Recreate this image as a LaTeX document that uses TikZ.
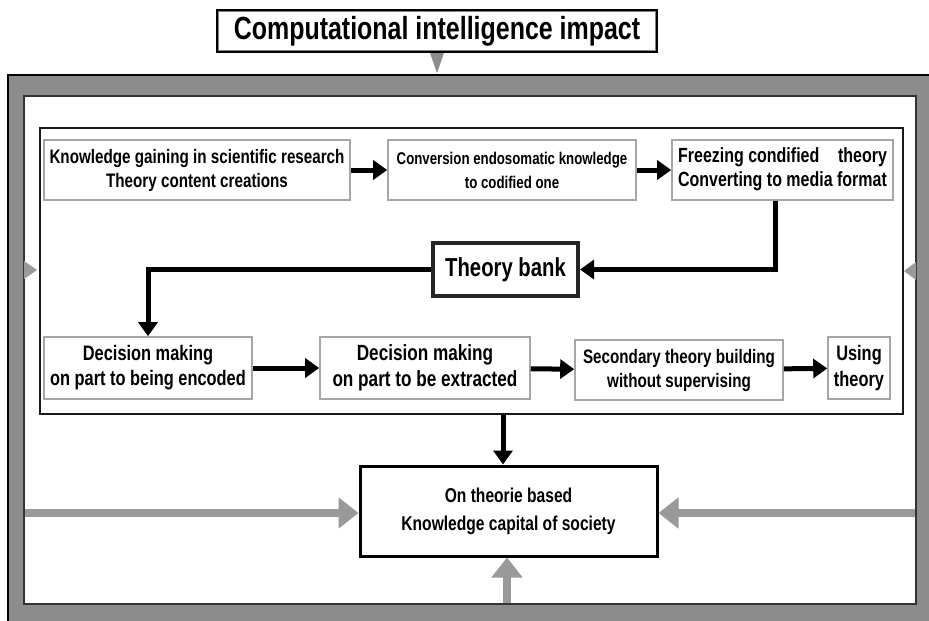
\documentclass[tikz,border=0pt]{standalone}
\usepackage{fontspec}
\setmainfont{Liberation Sans}[FakeStretch=0.78]
\usetikzlibrary{arrows.meta}

\definecolor{framegray}{HTML}{8C8C8C}
\definecolor{boxedge}{HTML}{A6A6A6}
\definecolor{feedgray}{HTML}{999999}

\begin{document}
\begin{tikzpicture}[x=1pt,y=-1pt,
  stepbox/.style={draw=boxedge, line width=1.6pt, fill=white, inner sep=2pt,
    align=center, font=\bfseries\fontsize{19.5}{24}\selectfont},
  flow/.style={draw=black, line width=5pt, -{Triangle[length=14pt,width=19pt]}},
  feed/.style={draw=feedgray, line width=8pt, -{Triangle[length=20pt,width=30pt]}, feedgray},
  inmark/.style={fill=feedgray},
]
\useasboundingbox (0,0) rectangle (929,621);

% gray outer frame and white working area
\fill[framegray] (8,75) rectangle (929,621);
\draw[black, line width=2.5pt] (8,621) -- (8,75) -- (929,75);
\draw[fill=white, draw=black!80, line width=2pt] (24,96) rectangle (916,604);

% heading
\node[draw=black, line width=2pt, fill=white, minimum width=440pt, minimum height=42pt,
  inner sep=0pt, font=\bfseries\fontsize{32}{36}\selectfont] (title) at (437,31)
  {Computational intelligence impact};
\draw[gray, line width=1.5pt] ([xshift=2.5pt,yshift=-2.5pt]title.north west) rectangle
  ([xshift=-2.5pt,yshift=2.5pt]title.south east);
\fill[framegray] ([xshift=-7pt]title.south) -- ([xshift=7pt]title.south) -- (437,73) -- cycle;

% side inputs into the working area
\fill[inmark] (24,261) -- (37,270) -- (24,279) -- cycle;
\fill[inmark] (916,262) -- (904,271) -- (916,280) -- cycle;

% process panel
\node[draw=black!90, line width=2.5pt, minimum width=863pt, minimum height=286pt,
  inner sep=0pt] (panel) at (471.5,271) {};

% first row
\node[stepbox, minimum width=306pt, minimum height=60pt] (b1) at (197,170)
  {Knowledge gaining in scientific research\\Theory content creations};
\node[stepbox, minimum width=248pt, minimum height=60pt,
  font=\bfseries\fontsize{17}{24}\selectfont] (b2) at (512,170)
  {Conversion endosomatic knowledge\\to codified one};
\node[stepbox, minimum width=221pt, minimum height=60pt, inner sep=1pt,
  font=\bfseries\fontsize{20.5}{24}\selectfont] (b3) at (782.5,170)
  {\begin{tabular}{@{}l@{\ }r@{}}Freezing condified & theory\\Converting to media & format\end{tabular}};

% theory bank
\node[draw=black!85, line width=4pt, fill=white, minimum width=145pt, minimum height=53pt,
  font=\bfseries\fontsize{26}{30}\selectfont] (bank) at (505.5,269.5) {Theory bank};

% second row
\node[stepbox, minimum width=208pt, minimum height=62pt,
  font=\bfseries\fontsize{21}{25}\selectfont] (b4) at (148,368)
  {Decision making\\on part to being encoded};
\node[stepbox, minimum width=210pt, minimum height=62pt,
  font=\bfseries\fontsize{22}{26}\selectfont] (b5) at (425,368)
  {Decision making\\on part to be extracted};
\node[stepbox, minimum width=208pt, minimum height=60pt] (b6) at (679,370)
  {Secondary theory building\\without supervising};
\node[stepbox, minimum width=62pt, minimum height=62pt,
  font=\bfseries\fontsize{21}{26}\selectfont] (b7) at (859,368)
  {Using\\theory};

% result
\node[draw=black, line width=3pt, fill=white, minimum width=297pt, minimum height=90pt,
  align=center, font=\bfseries\fontsize{20}{28}\selectfont] (final) at (508.5,511)
  {On theorie based\\Knowledge capital of society};

% flow connectors
\draw[flow] (b1) -- (b2);
\draw[flow] (b2) -- (b3);
\draw[flow] ([xshift=-7.5pt]b3.south) |- (bank.east);
\draw[flow] (bank.west) -| (b4.north);
\draw[flow] (b4) -- (b5);
\draw[flow] (b5) -- (b6);
\draw[flow] (b6) -- (b7);
\coordinate (pout) at ([xshift=31.5pt]panel.south);
\draw[flow] (pout) -- (pout |- final.north);

% external influences on the result
\coordinate (wl) at (25,513);
\coordinate (wr) at (915,513);
\coordinate (wb) at (507,603);
\draw[feed] (wl) -- (wl -| final.west);
\draw[feed] (wr) -- (wr -| final.east);
\draw[feed] (wb) -- (wb |- final.south);
\end{tikzpicture}
\end{document}
